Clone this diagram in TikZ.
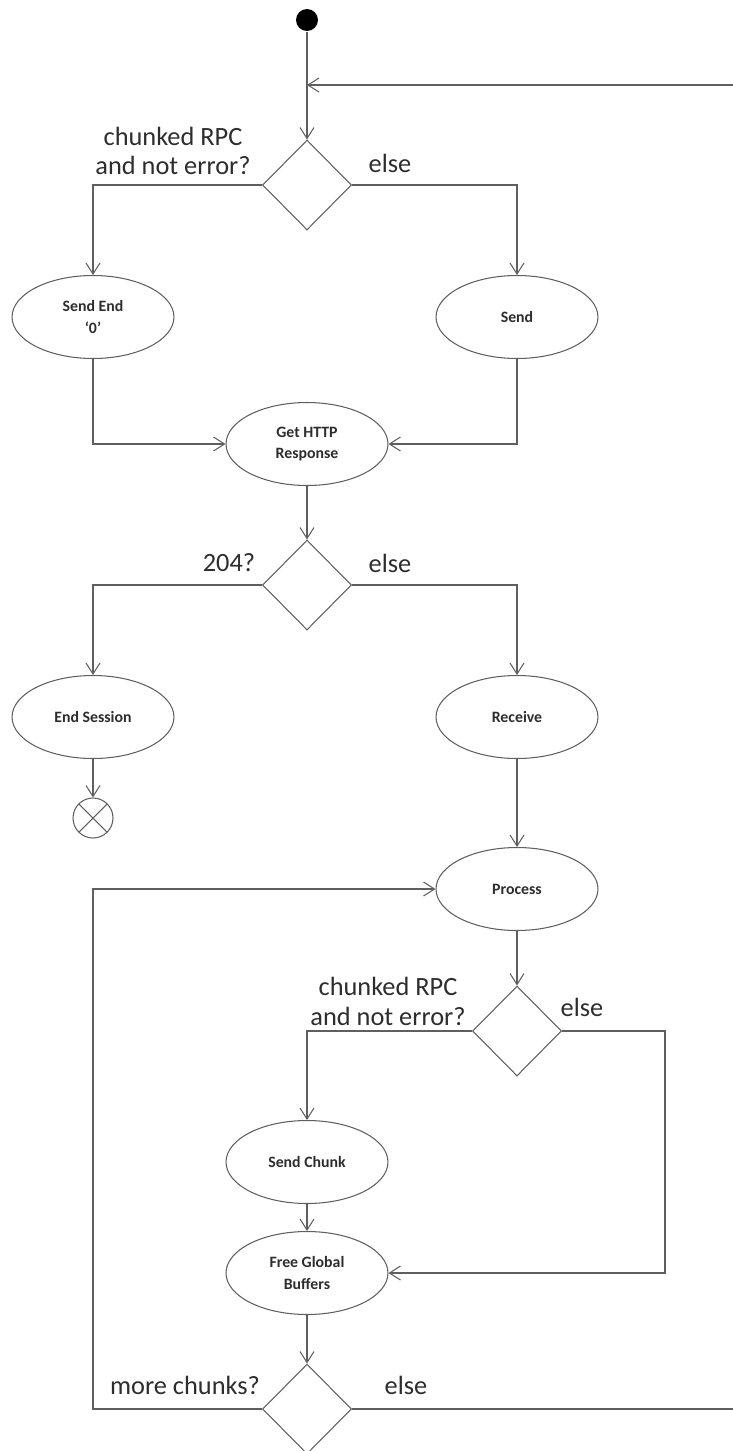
\documentclass[tikz,border=0pt]{standalone}
\usepackage{fontspec}
\setmainfont{Carlito}
\usetikzlibrary{shapes.geometric,arrows.meta}
\definecolor{linegray}{RGB}{95,95,95}
\definecolor{textgray}{RGB}{45,45,45}
\tikzstyle{every path}=[line width=0.6pt, line join=miter]
\tikzstyle{activity}=[draw=linegray, ellipse, minimum width=3.24cm, minimum height=1.66cm, inner sep=0pt, align=center, text=textgray, font=\fontsize{9}{12}\selectfont\bfseries]
\tikzstyle{decision}=[draw=linegray, diamond, minimum width=1.78cm, minimum height=1.8cm, inner sep=0pt]
\tikzstyle{guard}=[text=textgray, align=center, font=\fontsize{15}{17}\selectfont]
\tikzstyle{flow}=[draw=linegray, -{Straight Barb[length=2.2mm,width=2.8mm]}]
\tikzstyle{wire}=[draw=linegray]

\begin{document}
\begin{tikzpicture}[x=0.02cm, y=-0.02cm]
          \useasboundingbox (0,0) rectangle (733,1451);
          %inicio y fin
          \node[circle, fill=black, minimum size=0.44cm, inner sep=0pt] (start) at (307,20) {};
          \node[circle, draw=linegray, minimum size=0.8cm, inner sep=0pt,
                path picture={\draw[linegray] (path picture bounding box.north west) -- (path picture bounding box.south east)
                                              (path picture bounding box.north east) -- (path picture bounding box.south west);}] (final) at (93,818) {};
          %decisiones
          \node[decision] (dec1) at (307,185) {};
          \node[decision] (dec2) at (307,585) {};
          \node[decision] (dec3) at (517,1031) {};
          \node[decision] (dec4) at (307,1409) {};
          %actividades
          \node[activity] (sendend) at (93,317) {Send End\\`0'};
          \node[activity] (send) at (517,317) {Send};
          \node[activity] (http) at (307,444) {Get HTTP\\Response};
          \node[activity] (endsess) at (93,717) {End Session};
          \node[activity] (receive) at (517,717) {Receive};
          \node[activity] (process) at (517,889) {Process};
          \node[activity] (chunk) at (307,1162) {Send Chunk};
          \node[activity] (free) at (307,1273) {Free Global\\Buffers};
          %guardas
          \node[guard] (g1) at (173,151) {chunked RPC\\and not error?};
          \node[guard] (e1) at (390,163) {else};
          \node[guard] (g2) at (229,563) {204?};
          \node[guard] (e2) at (390,563) {else};
          \node[guard] (g3) at (388,1001) {chunked RPC\\and not error?};
          \node[guard] (e3) at (582,1007) {else};
          \node[guard] (g4) at (185,1385) {more chunks?};
          \node[guard] (e4) at (406,1385) {else};
          %puntos auxiliares
          \coordinate (merge) at (307,85);
          \coordinate (loopin) at (733,85);
          \coordinate (loopout) at (733,1409);
          \coordinate (elsecorner) at (665,1031);
          \coordinate (backcorner) at (93,1409);
          %flujos
          \draw[flow] (start) -- (dec1.north);
          \draw[flow] (loopin) -- (merge);
          \draw[flow] (dec1.west) -| (sendend.north);
          \draw[flow] (dec1.east) -| (send.north);
          \draw[flow] (sendend.south) |- (http.west);
          \draw[flow] (send.south) |- (http.east);
          \draw[flow] (http.south) -- (dec2.north);
          \draw[flow] (dec2.west) -| (endsess.north);
          \draw[flow] (dec2.east) -| (receive.north);
          \draw[flow] (endsess.south) -- (final.north);
          \draw[flow] (receive.south) -- (process.north);
          \draw[flow] (process.south) -- (dec3.north);
          \draw[flow] (dec3.west) -| (chunk.north);
          \draw[flow] (dec3.east) -- (elsecorner) |- (free.east);
          \draw[flow] (chunk.south) -- (free.north);
          \draw[flow] (free.south) -- (dec4.north);
          \draw[flow] (dec4.west) -- (backcorner) |- (process.west);
          \draw[wire] (dec4.east) -- (loopout);
        \end{tikzpicture}
\end{document}
